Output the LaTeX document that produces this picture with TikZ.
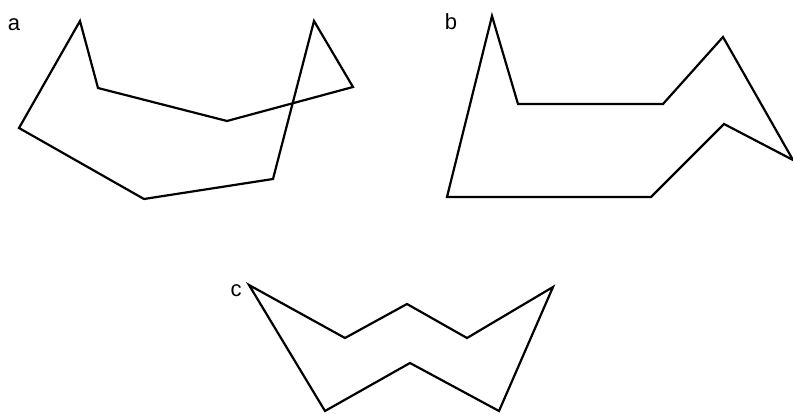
\documentclass[tikz,border=0pt]{standalone}
\usepackage{fontspec}
\setmainfont{Liberation Sans}
\begin{document}
\begin{tikzpicture}[x=1pt,y=-1pt,
  poly/.style={draw=black,line width=2.2pt,line join=miter},
  lbl/.style={font=\fontsize{22}{25}\selectfont,inner sep=0pt,anchor=base}]
\useasboundingbox (0,0) rectangle (793,414);
% figure a
\coordinate (a1) at (80,21);
\coordinate (a2) at (98,88);
\coordinate (a3) at (227,121);
\coordinate (a4) at (353,87);
\coordinate (a5) at (314,21);
\coordinate (a6) at (273,179);
\coordinate (a7) at (144,199);
\coordinate (a8) at (19,128);
\draw[poly] (a1) -- (a2) -- (a3) -- (a4) -- (a5) -- (a6) -- (a7) -- (a8) -- cycle;
\node[lbl] (la) at (14,31) {a};
% figure b
\coordinate (b1) at (492,16);
\coordinate (b2) at (518,104);
\coordinate (b3) at (663,104);
\coordinate (b4) at (723,37);
\coordinate (b5) at (793,160);
\coordinate (b6) at (724,124);
\coordinate (b7) at (651,197);
\coordinate (b8) at (447,197);
\draw[poly] (b1) -- (b2) -- (b3) -- (b4) -- (b5) -- (b6) -- (b7) -- (b8) -- cycle;
\node[lbl] (lb) at (451,30) {b};
% figure c
\coordinate (c1) at (249,285);
\coordinate (c2) at (345,338);
\coordinate (c3) at (407,304);
\coordinate (c4) at (467,338);
\coordinate (c5) at (553,287);
\coordinate (c6) at (499,411);
\coordinate (c7) at (410,363);
\coordinate (c8) at (325,411);
\draw[poly] (c1) -- (c2) -- (c3) -- (c4) -- (c5) -- (c6) -- (c7) -- (c8) -- cycle;
\node[lbl] (lc) at (236,297) {c};
\end{tikzpicture}
\end{document}
